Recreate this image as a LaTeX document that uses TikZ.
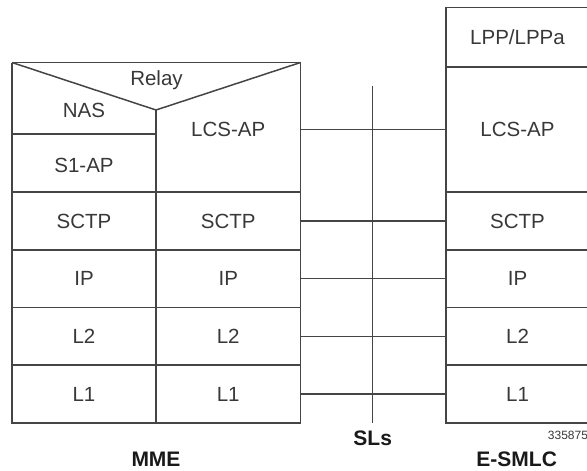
\documentclass[tikz,border=0pt]{standalone}
\usepackage{fontspec}
\setmainfont{Liberation Sans}
\definecolor{lncol}{gray}{0.27}
\definecolor{txcol}{gray}{0.22}
\definecolor{bdcol}{gray}{0.10}
\begin{document}
\begin{tikzpicture}[x=1pt,y=-1pt,
  line width=1.5pt, draw=lncol,
  every node/.style={inner sep=0pt, outer sep=0pt, text=txcol,
    font=\fontsize{20.5}{24}\selectfont, text height=14.68pt, text depth=0pt},
  cell/.style={draw=lncol, rectangle, minimum width=#1},
  cell/.default=144,
  lbl/.style={text=bdcol, font=\fontsize{21}{24}\selectfont\bfseries, text height=15.04pt},
  conn/.style={draw=lncol, line width=1.5pt}]
\useasboundingbox (0,0) rectangle (587,471);

% ---- MME lower stacks ----
\foreach \r/\t/\y in {SCTP/SCTP/220.9, IP/IP/278.6, L2/L2/336.4, L1/L1/394.1}{
  \node[cell=144, minimum height=57.75] (ma\r) at (84,\y) {\t};
  \node[cell=144.5, minimum height=57.75] (mb\r) at (228.25,\y) {\t};
}

% ---- MME upper part ----
\coordinate (mTL) at (12,62.5);
\coordinate (mTR) at (300.5,62.5);
\coordinate (mApex) at (156,110);
\coordinate (mDivL) at (12,134);
\coordinate (mDivR) at (156,134);
\draw[lncol] (mTL) -- (mTR) -- (mbSCTP.north east);
\draw[lncol] (mTL) -- (maSCTP.north west);
\draw[lncol] (mTL) -- (mApex) -- (mTR);
\draw[lncol] (mApex) -- (maSCTP.north east);
\draw[lncol] (mDivL) -- (mDivR);
\node (relay) at (156.5,78) {Relay};
\node (nas) at (84,110) {NAS};
\node (s1ap) at (84,165) {S1-AP};
\node[minimum width=144.5, minimum height=120] (mLCS) at (228.25,129.5) {LCS-AP};

% ---- E-SMLC stack ----
\node[cell=143, minimum height=59.3] (eLPP) at (517.5,37.35) {LPP/LPPa};
\node[cell=143, minimum height=124.7] (eLCS) at (517.5,129.5) {LCS-AP};
\foreach \r/\t/\y in {SCTP/SCTP/220.9, IP/IP/278.6, L2/L2/336.4, L1/L1/394.1}{
  \node[cell=143, minimum height=57.75] (e\r) at (517.5,\y) {\t};
}

% ---- SLs interface ----
\coordinate (slT) at (372.7,86);
\coordinate (slB) at (372.7,423);
\draw[lncol] (slT) -- (slB);
\draw[conn] (mLCS.east) -- (mLCS.east -| eLCS.west);
\foreach \r in {SCTP, IP, L2, L1}{
  \draw[conn] (mb\r.east) -- (mb\r.east -| e\r.west);
}

% ---- labels ----
\node[lbl] (sls) at (372.7,438) {SLs};
\node[lbl] (mme) at (156,459) {MME};
\node[lbl] (esmlc) at (516.7,459) {E-SMLC};
\node[anchor=east, font=\fontsize{12}{14}\selectfont, text height=8.6pt] (fig) at (588,435) {335875};
\end{tikzpicture}
\end{document}
